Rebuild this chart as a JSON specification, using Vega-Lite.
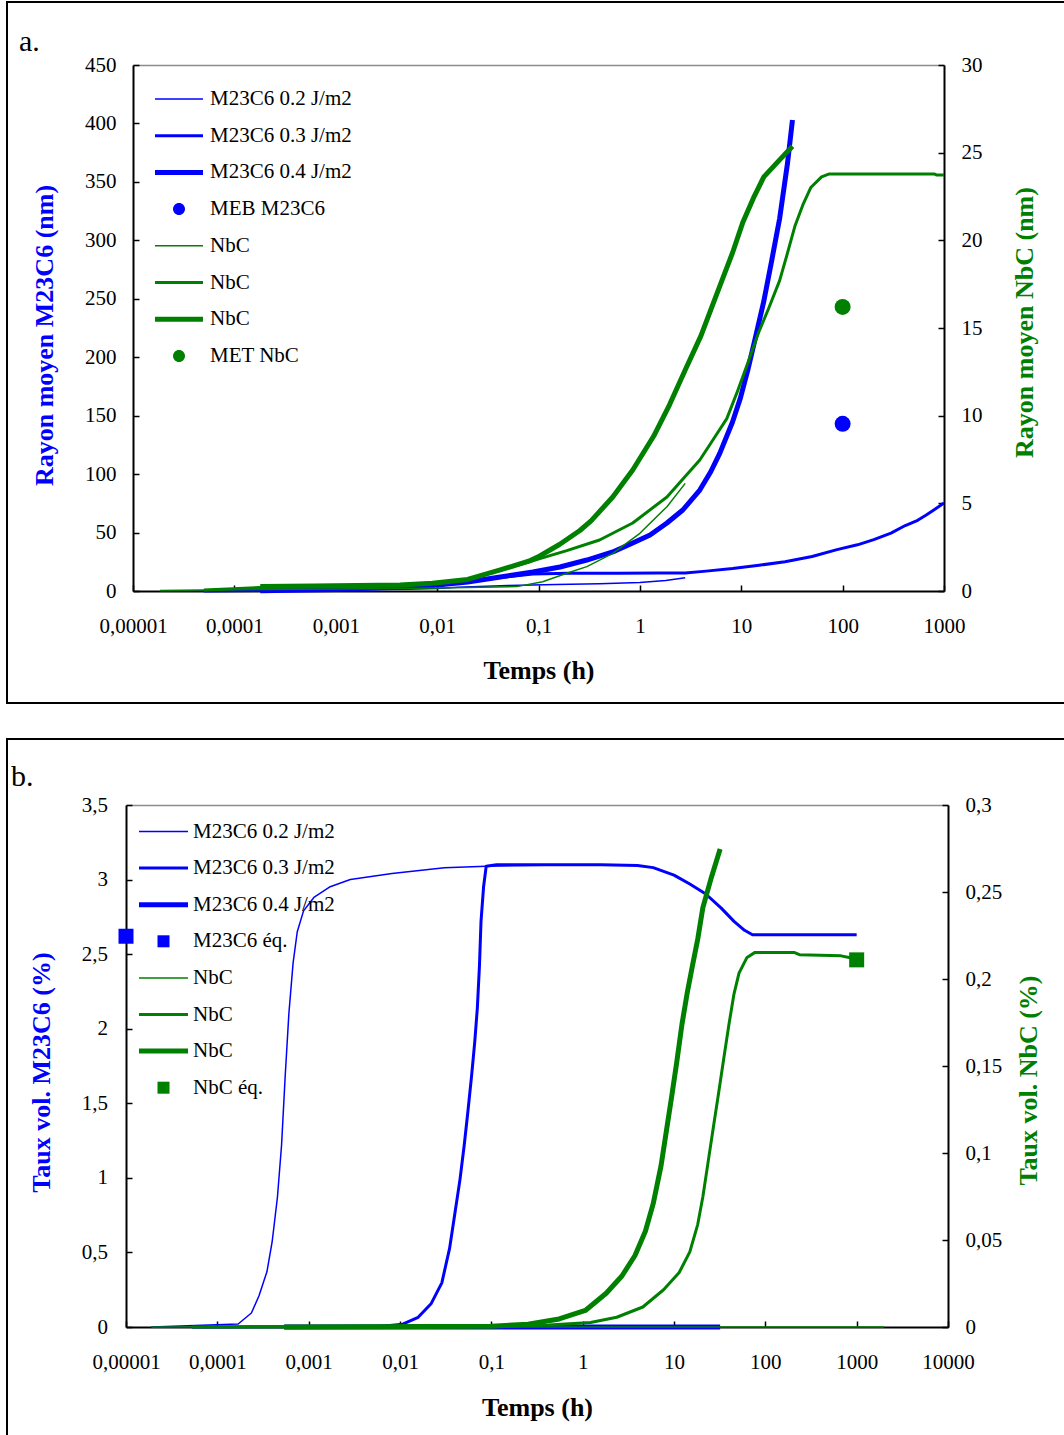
{
 "$schema": "https://vega.github.io/schema/vega-lite/v6.json",
 "background": "white",
 "padding": {"left": 6, "top": 1, "right": 0, "bottom": 0},
 "spacing": 34,
 "config": {"view": {"stroke": "black", "strokeWidth": 2}, "font": "Liberation Serif"},
 "resolve": {"scale": {"color": "independent"}, "legend": {"color": "independent"}},
 "datasets": {
  "aBlue": [
   {"s":"M23C6 0.2 J/m2","t":0.0000185,"v":0.1},{"s":"M23C6 0.2 J/m2","t":0.00019,"v":0.3},{"s":"M23C6 0.2 J/m2","t":0.001,"v":0.8},{"s":"M23C6 0.2 J/m2","t":0.005,"v":1.5},{"s":"M23C6 0.2 J/m2","t":0.01,"v":2.2},{"s":"M23C6 0.2 J/m2","t":0.016,"v":3.2},{"s":"M23C6 0.2 J/m2","t":0.05,"v":4.6},{"s":"M23C6 0.2 J/m2","t":0.15,"v":5.6},{"s":"M23C6 0.2 J/m2","t":0.4,"v":6.1},{"s":"M23C6 0.2 J/m2","t":1,"v":7.3},{"s":"M23C6 0.2 J/m2","t":1.8,"v":9},{"s":"M23C6 0.2 J/m2","t":2.8,"v":11.4},
   {"s":"M23C6 0.3 J/m2","t":0.00005,"v":0.1},{"s":"M23C6 0.3 J/m2","t":0.00019,"v":0.4},{"s":"M23C6 0.3 J/m2","t":0.001,"v":1.3},{"s":"M23C6 0.3 J/m2","t":0.0043,"v":3.4},{"s":"M23C6 0.3 J/m2","t":0.009,"v":4.8},{"s":"M23C6 0.3 J/m2","t":0.02,"v":7.7},{"s":"M23C6 0.3 J/m2","t":0.042,"v":11.5},{"s":"M23C6 0.3 J/m2","t":0.088,"v":14.5},{"s":"M23C6 0.3 J/m2","t":0.2,"v":15.1},{"s":"M23C6 0.3 J/m2","t":0.6,"v":15.2},{"s":"M23C6 0.3 J/m2","t":1.5,"v":15.3},{"s":"M23C6 0.3 J/m2","t":2.8,"v":15.5},{"s":"M23C6 0.3 J/m2","t":4.5,"v":17},{"s":"M23C6 0.3 J/m2","t":8.2,"v":19.2},{"s":"M23C6 0.3 J/m2","t":15,"v":22},{"s":"M23C6 0.3 J/m2","t":27,"v":25.1},{"s":"M23C6 0.3 J/m2","t":50,"v":29.5},{"s":"M23C6 0.3 J/m2","t":88,"v":35.4},{"s":"M23C6 0.3 J/m2","t":140,"v":39.5},{"s":"M23C6 0.3 J/m2","t":203,"v":44},{"s":"M23C6 0.3 J/m2","t":300,"v":49.5},{"s":"M23C6 0.3 J/m2","t":415,"v":56},{"s":"M23C6 0.3 J/m2","t":550,"v":60.5},{"s":"M23C6 0.3 J/m2","t":668,"v":65},{"s":"M23C6 0.3 J/m2","t":800,"v":69.5},{"s":"M23C6 0.3 J/m2","t":1000,"v":75.3},
   {"s":"M23C6 0.4 J/m2","t":0.00018,"v":0.3},{"s":"M23C6 0.4 J/m2","t":0.001,"v":1.3},{"s":"M23C6 0.4 J/m2","t":0.0043,"v":3.4},{"s":"M23C6 0.4 J/m2","t":0.009,"v":4.8},{"s":"M23C6 0.4 J/m2","t":0.02,"v":7.7},{"s":"M23C6 0.4 J/m2","t":0.042,"v":12},{"s":"M23C6 0.4 J/m2","t":0.088,"v":16.3},{"s":"M23C6 0.4 J/m2","t":0.163,"v":20.5},{"s":"M23C6 0.4 J/m2","t":0.3,"v":26.5},{"s":"M23C6 0.4 J/m2","t":0.54,"v":33.4},{"s":"M23C6 0.4 J/m2","t":0.85,"v":41.1},{"s":"M23C6 0.4 J/m2","t":1.26,"v":47.9},{"s":"M23C6 0.4 J/m2","t":1.85,"v":58.2},{"s":"M23C6 0.4 J/m2","t":2.65,"v":69.3},{"s":"M23C6 0.4 J/m2","t":3.9,"v":86.4},{"s":"M23C6 0.4 J/m2","t":5,"v":102},{"s":"M23C6 0.4 J/m2","t":6.15,"v":118},{"s":"M23C6 0.4 J/m2","t":8.2,"v":144.6},{"s":"M23C6 0.4 J/m2","t":9.8,"v":165},{"s":"M23C6 0.4 J/m2","t":11.6,"v":189},{"s":"M23C6 0.4 J/m2","t":13.9,"v":218},{"s":"M23C6 0.4 J/m2","t":16.7,"v":248},{"s":"M23C6 0.4 J/m2","t":20,"v":283},{"s":"M23C6 0.4 J/m2","t":23.9,"v":318.6},{"s":"M23C6 0.4 J/m2","t":28.6,"v":366},{"s":"M23C6 0.4 J/m2","t":32,"v":403}
  ],
  "aGreen": [
   {"s":"NbC 0.2 J/m2","t":0.0000185,"v":0.03},{"s":"NbC 0.2 J/m2","t":0.00005,"v":0.05},{"s":"NbC 0.2 J/m2","t":0.00018,"v":0.09},{"s":"NbC 0.2 J/m2","t":0.001,"v":0.11},{"s":"NbC 0.2 J/m2","t":0.01,"v":0.17},{"s":"NbC 0.2 J/m2","t":0.061,"v":0.25},{"s":"NbC 0.2 J/m2","t":0.11,"v":0.53},{"s":"NbC 0.2 J/m2","t":0.19,"v":1.01},{"s":"NbC 0.2 J/m2","t":0.3,"v":1.39},{"s":"NbC 0.2 J/m2","t":0.54,"v":2.15},{"s":"NbC 0.2 J/m2","t":1,"v":3.29},{"s":"NbC 0.2 J/m2","t":1.85,"v":4.81},{"s":"NbC 0.2 J/m2","t":2.8,"v":6.14},
   {"s":"NbC 0.3 J/m2","t":0.00005,"v":0.05},{"s":"NbC 0.3 J/m2","t":0.00018,"v":0.2},{"s":"NbC 0.3 J/m2","t":0.0006,"v":0.25},{"s":"NbC 0.3 J/m2","t":0.0043,"v":0.33},{"s":"NbC 0.3 J/m2","t":0.009,"v":0.44},{"s":"NbC 0.3 J/m2","t":0.02,"v":0.66},{"s":"NbC 0.3 J/m2","t":0.042,"v":1.2},{"s":"NbC 0.3 J/m2","t":0.08,"v":1.65},{"s":"NbC 0.3 J/m2","t":0.103,"v":1.85},{"s":"NbC 0.3 J/m2","t":0.19,"v":2.3},{"s":"NbC 0.3 J/m2","t":0.4,"v":2.91},{"s":"NbC 0.3 J/m2","t":0.85,"v":3.88},{"s":"NbC 0.3 J/m2","t":1.85,"v":5.36},{"s":"NbC 0.3 J/m2","t":3.9,"v":7.47},{"s":"NbC 0.3 J/m2","t":5.25,"v":8.61},{"s":"NbC 0.3 J/m2","t":7.2,"v":9.83},{"s":"NbC 0.3 J/m2","t":9.2,"v":11.41},{"s":"NbC 0.3 J/m2","t":11.6,"v":13},{"s":"NbC 0.3 J/m2","t":14.9,"v":14.77},{"s":"NbC 0.3 J/m2","t":18.7,"v":16.14},{"s":"NbC 0.3 J/m2","t":23.9,"v":17.7},{"s":"NbC 0.3 J/m2","t":28.6,"v":19.28},{"s":"NbC 0.3 J/m2","t":34,"v":20.85},{"s":"NbC 0.3 J/m2","t":40.5,"v":22.02},{"s":"NbC 0.3 J/m2","t":48.5,"v":23.01},{"s":"NbC 0.3 J/m2","t":62,"v":23.62},{"s":"NbC 0.3 J/m2","t":74,"v":23.79},{"s":"NbC 0.3 J/m2","t":800,"v":23.79},{"s":"NbC 0.3 J/m2","t":850,"v":23.72},{"s":"NbC 0.3 J/m2","t":1000,"v":23.72},
   {"s":"NbC 0.4 J/m2","t":0.00018,"v":0.25},{"s":"NbC 0.4 J/m2","t":0.0006,"v":0.28},{"s":"NbC 0.4 J/m2","t":0.0043,"v":0.34},{"s":"NbC 0.4 J/m2","t":0.009,"v":0.44},{"s":"NbC 0.4 J/m2","t":0.02,"v":0.66},{"s":"NbC 0.4 J/m2","t":0.042,"v":1.2},{"s":"NbC 0.4 J/m2","t":0.08,"v":1.7},{"s":"NbC 0.4 J/m2","t":0.103,"v":2},{"s":"NbC 0.4 J/m2","t":0.161,"v":2.65},{"s":"NbC 0.4 J/m2","t":0.256,"v":3.45},{"s":"NbC 0.4 J/m2","t":0.33,"v":4},{"s":"NbC 0.4 J/m2","t":0.54,"v":5.36},{"s":"NbC 0.4 J/m2","t":0.85,"v":6.9},{"s":"NbC 0.4 J/m2","t":1.37,"v":8.84},{"s":"NbC 0.4 J/m2","t":1.96,"v":10.62},{"s":"NbC 0.4 J/m2","t":2.8,"v":12.61},{"s":"NbC 0.4 J/m2","t":4,"v":14.55},{"s":"NbC 0.4 J/m2","t":5.08,"v":16.14},{"s":"NbC 0.4 J/m2","t":6.44,"v":17.7},{"s":"NbC 0.4 J/m2","t":8.19,"v":19.28},{"s":"NbC 0.4 J/m2","t":10.4,"v":21.05},{"s":"NbC 0.4 J/m2","t":13.2,"v":22.42},{"s":"NbC 0.4 J/m2","t":16.7,"v":23.62},{"s":"NbC 0.4 J/m2","t":23.9,"v":24.59},{"s":"NbC 0.4 J/m2","t":32,"v":25.37}
  ],
  "aBluePts": [{"s":"MEB M23C6","t":100,"v":143}],
  "aGreenPts": [{"s":"MET NbC","t":100,"v":16.2}],
  "bBlue": [
   {"s":"M23C6 0.2 J/m2","t":0.000019,"v":0},{"s":"M23C6 0.2 J/m2","t":0.000169,"v":0.02},{"s":"M23C6 0.2 J/m2","t":0.000236,"v":0.094},{"s":"M23C6 0.2 J/m2","t":0.000286,"v":0.21},{"s":"M23C6 0.2 J/m2","t":0.000349,"v":0.37},{"s":"M23C6 0.2 J/m2","t":0.000398,"v":0.57},{"s":"M23C6 0.2 J/m2","t":0.000455,"v":0.87},{"s":"M23C6 0.2 J/m2","t":0.000505,"v":1.22},{"s":"M23C6 0.2 J/m2","t":0.000553,"v":1.68},{"s":"M23C6 0.2 J/m2","t":0.000607,"v":2.1},{"s":"M23C6 0.2 J/m2","t":0.000675,"v":2.44},{"s":"M23C6 0.2 J/m2","t":0.00075,"v":2.65},{"s":"M23C6 0.2 J/m2","t":0.000879,"v":2.79},{"s":"M23C6 0.2 J/m2","t":0.00114,"v":2.88},{"s":"M23C6 0.2 J/m2","t":0.00169,"v":2.95},{"s":"M23C6 0.2 J/m2","t":0.00286,"v":3},{"s":"M23C6 0.2 J/m2","t":0.00817,"v":3.04},{"s":"M23C6 0.2 J/m2","t":0.0306,"v":3.08},{"s":"M23C6 0.2 J/m2","t":0.0875,"v":3.09},{"s":"M23C6 0.2 J/m2","t":1,"v":3.1},{"s":"M23C6 0.2 J/m2","t":2.8,"v":3.1},
   {"s":"M23C6 0.3 J/m2","t":0.000053,"v":0},{"s":"M23C6 0.3 J/m2","t":0.006,"v":0.003},{"s":"M23C6 0.3 J/m2","t":0.0107,"v":0.019},{"s":"M23C6 0.3 J/m2","t":0.0158,"v":0.065},{"s":"M23C6 0.3 J/m2","t":0.022,"v":0.158},{"s":"M23C6 0.3 J/m2","t":0.0287,"v":0.296},{"s":"M23C6 0.3 J/m2","t":0.0349,"v":0.527},{"s":"M23C6 0.3 J/m2","t":0.0398,"v":0.758},{"s":"M23C6 0.3 J/m2","t":0.0454,"v":0.99},{"s":"M23C6 0.3 J/m2","t":0.0505,"v":1.22},{"s":"M23C6 0.3 J/m2","t":0.0555,"v":1.45},{"s":"M23C6 0.3 J/m2","t":0.0607,"v":1.68},{"s":"M23C6 0.3 J/m2","t":0.0658,"v":1.91},{"s":"M23C6 0.3 J/m2","t":0.0703,"v":2.14},{"s":"M23C6 0.3 J/m2","t":0.0741,"v":2.42},{"s":"M23C6 0.3 J/m2","t":0.0771,"v":2.72},{"s":"M23C6 0.3 J/m2","t":0.0822,"v":2.95},{"s":"M23C6 0.3 J/m2","t":0.0879,"v":3.09},{"s":"M23C6 0.3 J/m2","t":0.114,"v":3.1},{"s":"M23C6 0.3 J/m2","t":0.426,"v":3.1},{"s":"M23C6 0.3 J/m2","t":1.59,"v":3.1},{"s":"M23C6 0.3 J/m2","t":3.99,"v":3.095},{"s":"M23C6 0.3 J/m2","t":5.92,"v":3.08},{"s":"M23C6 0.3 J/m2","t":10,"v":3.03},{"s":"M23C6 0.3 J/m2","t":14.9,"v":2.97},{"s":"M23C6 0.3 J/m2","t":22.1,"v":2.905},{"s":"M23C6 0.3 J/m2","t":32.7,"v":2.81},{"s":"M23C6 0.3 J/m2","t":45.4,"v":2.72},{"s":"M23C6 0.3 J/m2","t":59.2,"v":2.66},{"s":"M23C6 0.3 J/m2","t":72.3,"v":2.63},{"s":"M23C6 0.3 J/m2","t":159,"v":2.63},{"s":"M23C6 0.3 J/m2","t":1000,"v":2.63},
   {"s":"M23C6 0.4 J/m2","t":0.00054,"v":0},{"s":"M23C6 0.4 J/m2","t":32,"v":0}
  ],
  "bGreen": [
   {"s":"NbC 0.2 J/m2","t":0.000019,"v":0},{"s":"NbC 0.2 J/m2","t":2000,"v":0},
   {"s":"NbC 0.3 J/m2","t":0.000053,"v":0},{"s":"NbC 0.3 J/m2","t":0.1,"v":0.0003},{"s":"NbC 0.3 J/m2","t":0.426,"v":0.0012},{"s":"NbC 0.3 J/m2","t":1.22,"v":0.0026},{"s":"NbC 0.3 J/m2","t":2.36,"v":0.0056},{"s":"NbC 0.3 J/m2","t":4.56,"v":0.0115},{"s":"NbC 0.3 J/m2","t":7.69,"v":0.0214},{"s":"NbC 0.3 J/m2","t":11.4,"v":0.0313},{"s":"NbC 0.3 J/m2","t":14.9,"v":0.0432},{"s":"NbC 0.3 J/m2","t":18.2,"v":0.059},{"s":"NbC 0.3 J/m2","t":20.7,"v":0.0748},{"s":"NbC 0.3 J/m2","t":23.6,"v":0.0946},{"s":"NbC 0.3 J/m2","t":26.9,"v":0.1144},{"s":"NbC 0.3 J/m2","t":30.7,"v":0.134},{"s":"NbC 0.3 J/m2","t":35,"v":0.154},{"s":"NbC 0.3 J/m2","t":39.9,"v":0.1737},{"s":"NbC 0.3 J/m2","t":45.4,"v":0.1915},{"s":"NbC 0.3 J/m2","t":51.5,"v":0.2034},{"s":"NbC 0.3 J/m2","t":63,"v":0.2124},{"s":"NbC 0.3 J/m2","t":77.1,"v":0.2153},{"s":"NbC 0.3 J/m2","t":206,"v":0.2153},{"s":"NbC 0.3 J/m2","t":236,"v":0.214},{"s":"NbC 0.3 J/m2","t":674,"v":0.2133},{"s":"NbC 0.3 J/m2","t":825,"v":0.2124},{"s":"NbC 0.3 J/m2","t":1000,"v":0.2124},
   {"s":"NbC 0.4 J/m2","t":0.00054,"v":0},{"s":"NbC 0.4 J/m2","t":0.1,"v":0.0005},{"s":"NbC 0.4 J/m2","t":0.252,"v":0.0016},{"s":"NbC 0.4 J/m2","t":0.553,"v":0.0046},{"s":"NbC 0.4 J/m2","t":1.07,"v":0.0095},{"s":"NbC 0.4 J/m2","t":1.81,"v":0.0194},{"s":"NbC 0.4 J/m2","t":2.69,"v":0.0293},{"s":"NbC 0.4 J/m2","t":3.74,"v":0.0411},{"s":"NbC 0.4 J/m2","t":4.86,"v":0.055},{"s":"NbC 0.4 J/m2","t":5.92,"v":0.0709},{"s":"NbC 0.4 J/m2","t":7.21,"v":0.0926},{"s":"NbC 0.4 J/m2","t":8.24,"v":0.1124},{"s":"NbC 0.4 J/m2","t":9.4,"v":0.132},{"s":"NbC 0.4 J/m2","t":10.7,"v":0.152},{"s":"NbC 0.4 J/m2","t":12.2,"v":0.1737},{"s":"NbC 0.4 J/m2","t":13.9,"v":0.1915},{"s":"NbC 0.4 J/m2","t":15.9,"v":0.2075},{"s":"NbC 0.4 J/m2","t":18.2,"v":0.223},{"s":"NbC 0.4 J/m2","t":20.7,"v":0.241},{"s":"NbC 0.4 J/m2","t":25.2,"v":0.257},{"s":"NbC 0.4 J/m2","t":32,"v":0.2747}
  ],
  "bBluePts": [{"s":"M23C6 éq.","t":0.00001,"v":2.62}],
  "bGreenPts": [{"s":"NbC éq.","t":1000,"v":0.211}]
 },
 "vconcat": [
  {
   "width": 1064, "height": 701,
   "title": {"text": "a.", "anchor": "start", "frame": "group", "orient": "top", "offset": -79, "dx": 12, "fontSize": 30, "fontWeight": "normal", "color": "black", "baseline": "alphabetic", "font": "Liberation Serif"},
   "resolve": {"scale": {"x": "independent", "y": "independent"}, "axis": {"x": "independent", "y": "independent"}},
   "layer": [
    {
     "data": {"name": "aBlue"},
     "mark": {"type": "line", "strokeJoin": "round"},
     "encoding": {
      "x": {"field": "t", "type": "quantitative", "scale": {"type": "log", "domain": [0.00001, 1000], "range": [126, 937], "nice": false},
            "axis": {"orient": "bottom", "offset": -112, "values": [0.00001,0.0001,0.001,0.01,0.1,1,10,100,1000], "labelExpr": "replace(format(datum.value,'~f'),'.',',')", "labelFont": "Liberation Serif", "labelFontSize": 21, "labelColor": "black", "labelPadding": 30, "labelFlush": false, "labelOverlap": false, "tickSize": -6, "tickColor": "black", "tickWidth": 1.5, "domainColor": "black", "domainWidth": 2, "grid": false, "title": "Temps (h)", "titleFont": "Liberation Serif", "titleFontSize": 26, "titleFontWeight": "bold", "titleColor": "black", "titleY": 87, "titleBaseline": "alphabetic"}},
      "y": {"field": "v", "type": "quantitative", "scale": {"domain": [0, 450], "range": [589, 63], "nice": false, "zero": false},
            "axis": {"orient": "left", "offset": -126, "values": [0,50,100,150,200,250,300,350,400,450], "labelExpr": "replace(format(datum.value,'~f'),'.',',')", "labelFont": "Liberation Serif", "labelFontSize": 21, "labelColor": "black", "labelPadding": 23, "labelOverlap": false, "tickSize": -6, "tickColor": "black", "tickWidth": 1.5, "domainColor": "black", "domainWidth": 2, "grid": false, "title": "Rayon moyen M23C6 (nm)", "titleFont": "Liberation Serif", "titleColor": "#0000FF", "titleFontSize": 26, "titleFontWeight": "bold", "titleAngle": 270, "titleX": -81, "titleY": 333, "titleBaseline": "alphabetic", "titleAlign": "center"}},
      "color": {"field": "s", "type": "nominal",
        "scale": {"domain": ["M23C6 0.2 J/m2","M23C6 0.3 J/m2","M23C6 0.4 J/m2","MEB M23C6","NbC 0.2 J/m2","NbC 0.3 J/m2","NbC 0.4 J/m2","MET NbC"], "range": ["#0000FF","#0000FF","#0000FF","#0000FF","#008000","#008000","#008000","#008000"]},
        "legend": {"orient": "none", "legendX": 148, "legendY": 73, "title": null, "padding": 0, "labelFont": "Liberation Serif", "labelFontSize": 21, "labelColor": "black", "labelLimit": 400, "labelOffset": 7, "symbolSize": 2304, "symbolStrokeWidth": 0, "rowPadding": 2.7,
          "labelExpr": "indexof(datum.value,'NbC 0.')==0 ? 'NbC' : datum.value",
          "encode": {"symbols": {"update": {
            "shape": {"signal": "indexof(datum.value,'0.2 J')>0 ? 'M-1,-0.031H1V0.031H-1Z' : indexof(datum.value,'0.3 J')>0 ? 'M-1,-0.0625H1V0.0625H-1Z' : indexof(datum.value,'0.4 J')>0 ? 'M-1,-0.104H1V0.104H-1Z' : 'M-0.25,0A0.25,0.25,0,1,0,0.25,0A0.25,0.25,0,1,0,-0.25,0Z'"},
            "fill": {"signal": "indexof(datum.value,'M23C6')>=0 ? '#0000FF' : '#008000'"},
            "strokeWidth": {"value": 0},
            "opacity": {"value": 1}
          }}}}},
      "strokeWidth": {"condition": [{"test": "indexof(datum.s,'0.2 J')>0", "value": 1.5}, {"test": "indexof(datum.s,'0.4 J')>0", "value": 5}], "value": 3}
     }
    },
    {
     "data": {"name": "aBluePts"},
     "mark": {"type": "circle", "size": 256, "opacity": 1},
     "encoding": {
      "x": {"field": "t", "type": "quantitative", "scale": {"type": "log", "domain": [0.00001, 1000], "range": [126, 937], "nice": false}, "axis": null},
      "y": {"field": "v", "type": "quantitative", "scale": {"domain": [0, 450], "range": [589, 63], "nice": false, "zero": false}, "axis": null},
      "color": {"field": "s", "type": "nominal", "legend": null}
     }
    },
    {
     "data": {"name": "aGreen"},
     "mark": {"type": "line", "strokeJoin": "round"},
     "encoding": {
      "x": {"field": "t", "type": "quantitative", "scale": {"type": "log", "domain": [0.00001, 1000], "range": [126, 937], "nice": false}, "axis": null},
      "y": {"field": "v", "type": "quantitative", "scale": {"domain": [0, 30], "range": [589, 63], "nice": false, "zero": false},
            "axis": {"orient": "right", "offset": -127, "values": [0,5,10,15,20,25,30], "labelExpr": "replace(format(datum.value,'~f'),'.',',')", "labelFont": "Liberation Serif", "labelFontSize": 21, "labelColor": "black", "labelPadding": 23, "labelOverlap": false, "tickSize": -6, "tickColor": "black", "tickWidth": 1.5, "domainColor": "black", "domainWidth": 2, "grid": false, "title": "Rayon moyen NbC (nm)", "titleFont": "Liberation Serif", "titleColor": "#008000", "titleFontSize": 26, "titleFontWeight": "bold", "titleAngle": 270, "titleX": 88, "titleY": 320, "titleBaseline": "alphabetic", "titleAlign": "center"}},
      "color": {"field": "s", "type": "nominal", "legend": null},
      "strokeWidth": {"condition": [{"test": "indexof(datum.s,'0.2 J')>0", "value": 1.5}, {"test": "indexof(datum.s,'0.4 J')>0", "value": 5}], "value": 3}
     }
    },
    {
     "data": {"name": "aGreenPts"},
     "mark": {"type": "circle", "size": 256, "opacity": 1},
     "encoding": {
      "x": {"field": "t", "type": "quantitative", "scale": {"type": "log", "domain": [0.00001, 1000], "range": [126, 937], "nice": false},
            "axis": {"orient": "top", "offset": -63, "ticks": false, "labels": false, "domainColor": "#8c8c8c", "domainWidth": 1.5, "grid": false, "title": null}},
      "y": {"field": "v", "type": "quantitative", "scale": {"domain": [0, 30], "range": [589, 63], "nice": false, "zero": false}, "axis": null},
      "color": {"field": "s", "type": "nominal", "legend": null}
     }
    }
   ]
  },
  {
   "width": 1064, "height": 700,
   "title": {"text": "b.", "anchor": "start", "frame": "group", "orient": "top", "offset": -77, "dx": 4, "fontSize": 30, "fontWeight": "normal", "color": "black", "baseline": "alphabetic", "font": "Liberation Serif"},
   "resolve": {"scale": {"x": "independent", "y": "independent"}, "axis": {"x": "independent", "y": "independent"}},
   "layer": [
    {
     "data": {"name": "bBlue"},
     "mark": {"type": "line", "strokeJoin": "round"},
     "encoding": {
      "x": {"field": "t", "type": "quantitative", "scale": {"type": "log", "domain": [0.00001, 10000], "range": [119, 941], "nice": false},
            "axis": {"orient": "bottom", "offset": -112, "values": [0.00001,0.0001,0.001,0.01,0.1,1,10,100,1000,10000], "labelExpr": "replace(format(datum.value,'~f'),'.',',')", "labelFont": "Liberation Serif", "labelFontSize": 21, "labelColor": "black", "labelPadding": 30, "labelFlush": false, "labelOverlap": false, "tickSize": -6, "tickColor": "black", "tickWidth": 1.5, "domainColor": "black", "domainWidth": 2, "grid": false, "title": "Temps (h)", "titleFont": "Liberation Serif", "titleFontSize": 26, "titleFontWeight": "bold", "titleColor": "black", "titleY": 88, "titleBaseline": "alphabetic"}},
      "y": {"field": "v", "type": "quantitative", "scale": {"domain": [0, 3.5], "range": [588, 66], "nice": false, "zero": false},
            "axis": {"orient": "left", "offset": -119, "values": [0,0.5,1,1.5,2,2.5,3,3.5], "labelExpr": "replace(format(datum.value,'~f'),'.',',')", "labelFont": "Liberation Serif", "labelFontSize": 21, "labelColor": "black", "labelPadding": 24.5, "labelOverlap": false, "tickSize": -6, "tickColor": "black", "tickWidth": 1.5, "domainColor": "black", "domainWidth": 2, "grid": false, "title": "Taux vol. M23C6 (%)", "titleFont": "Liberation Serif", "titleColor": "#0000FF", "titleFontSize": 26, "titleFontWeight": "bold", "titleAngle": 270, "titleX": -77, "titleY": 333, "titleBaseline": "alphabetic", "titleAlign": "center"}},
      "color": {"field": "s", "type": "nominal",
        "scale": {"domain": ["M23C6 0.2 J/m2","M23C6 0.3 J/m2","M23C6 0.4 J/m2","M23C6 éq.","NbC 0.2 J/m2","NbC 0.3 J/m2","NbC 0.4 J/m2","NbC éq."], "range": ["#0000FF","#0000FF","#0000FF","#0000FF","#008000","#008000","#008000","#008000"]},
        "legend": {"orient": "none", "legendX": 132, "legendY": 68, "title": null, "padding": 0, "labelFont": "Liberation Serif", "labelFontSize": 21, "labelColor": "black", "labelLimit": 400, "labelOffset": 5, "symbolSize": 2401, "symbolStrokeWidth": 0, "rowPadding": 1.6,
          "labelExpr": "indexof(datum.value,'NbC 0.')==0 ? 'NbC' : datum.value",
          "encode": {"symbols": {"update": {
            "shape": {"signal": "indexof(datum.value,'0.2 J')>0 ? 'M-1,-0.031H1V0.031H-1Z' : indexof(datum.value,'0.3 J')>0 ? 'M-1,-0.0612H1V0.0612H-1Z' : indexof(datum.value,'0.4 J')>0 ? 'M-1,-0.102H1V0.102H-1Z' : 'M-0.245,-0.245H0.245V0.245H-0.245Z'"},
            "fill": {"signal": "indexof(datum.value,'M23C6')>=0 ? '#0000FF' : '#008000'"},
            "strokeWidth": {"value": 0},
            "opacity": {"value": 1}
          }}}}},
      "strokeWidth": {"condition": [{"test": "indexof(datum.s,'0.2 J')>0", "value": 1.5}, {"test": "indexof(datum.s,'0.4 J')>0", "value": 5}], "value": 3}
     }
    },
    {
     "data": {"name": "bBluePts"},
     "mark": {"type": "square", "size": 225, "opacity": 1},
     "encoding": {
      "x": {"field": "t", "type": "quantitative", "scale": {"type": "log", "domain": [0.00001, 10000], "range": [119, 941], "nice": false}, "axis": null},
      "y": {"field": "v", "type": "quantitative", "scale": {"domain": [0, 3.5], "range": [588, 66], "nice": false, "zero": false}, "axis": null},
      "color": {"field": "s", "type": "nominal", "legend": null}
     }
    },
    {
     "data": {"name": "bGreen"},
     "mark": {"type": "line", "strokeJoin": "round"},
     "encoding": {
      "x": {"field": "t", "type": "quantitative", "scale": {"type": "log", "domain": [0.00001, 10000], "range": [119, 941], "nice": false}, "axis": null},
      "y": {"field": "v", "type": "quantitative", "scale": {"domain": [0, 0.3], "range": [588, 66], "nice": false, "zero": false},
            "axis": {"orient": "right", "offset": -123, "values": [0,0.05,0.1,0.15,0.2,0.25,0.3], "labelExpr": "replace(format(datum.value,'~f'),'.',',')", "labelFont": "Liberation Serif", "labelFontSize": 21, "labelColor": "black", "labelPadding": 23, "labelOverlap": false, "tickSize": -6, "tickColor": "black", "tickWidth": 1.5, "domainColor": "black", "domainWidth": 2, "grid": false, "title": "Taux vol. NbC (%)", "titleFont": "Liberation Serif", "titleColor": "#008000", "titleFontSize": 26, "titleFontWeight": "bold", "titleAngle": 270, "titleX": 88, "titleY": 341, "titleBaseline": "alphabetic", "titleAlign": "center"}},
      "color": {"field": "s", "type": "nominal", "legend": null},
      "strokeWidth": {"condition": [{"test": "indexof(datum.s,'0.2 J')>0", "value": 1.5}, {"test": "indexof(datum.s,'0.4 J')>0", "value": 5}], "value": 3}
     }
    },
    {
     "data": {"name": "bGreenPts"},
     "mark": {"type": "square", "size": 225, "opacity": 1},
     "encoding": {
      "x": {"field": "t", "type": "quantitative", "scale": {"type": "log", "domain": [0.00001, 10000], "range": [119, 941], "nice": false},
            "axis": {"orient": "top", "offset": -66, "ticks": false, "labels": false, "domainColor": "#8c8c8c", "domainWidth": 1.5, "grid": false, "title": null}},
      "y": {"field": "v", "type": "quantitative", "scale": {"domain": [0, 0.3], "range": [588, 66], "nice": false, "zero": false}, "axis": null},
      "color": {"field": "s", "type": "nominal", "legend": null}
     }
    }
   ]
  }
 ]
}
